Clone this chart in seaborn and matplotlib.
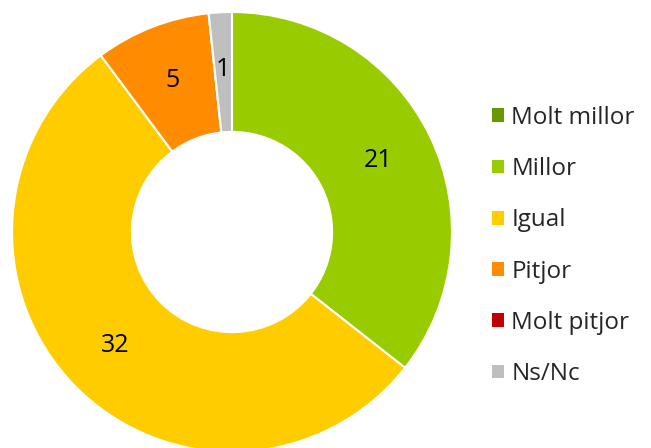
import matplotlib.pyplot as plt
import seaborn as sns
from matplotlib.patches import Patch

# Dades
categories = ['Molt millor', 'Millor', 'Igual', 'Pitjor', 'Molt pitjor', 'Ns/Nc']
valors = [0, 21, 32, 5, 0, 1]
colors = ['#669900', '#99CC00', '#FFCC00', '#FF8C00', '#C00000', '#BFBFBF']

sns.set_style('white')
plt.rcParams['font.family'] = ['Open Sans', 'DejaVu Sans']

fig = plt.figure(figsize=(6.51, 4.48), dpi=100)
ax = fig.add_axes([12 / 651, -4 / 448, 440 / 651, 440 / 448])

total = sum(valors)


def etiqueta(pct):
    v = int(round(pct * total / 100))
    return str(v) if v > 0 else ''


wedges, texts, autotexts = ax.pie(
    valors, colors=colors, startangle=90, counterclock=False,
    autopct=etiqueta, pctdistance=0.74,
    wedgeprops=dict(width=0.545, edgecolor='white', linewidth=1.5),
    textprops=dict(fontsize=18, color='black'))
ax.set_xlim(-1, 1)
ax.set_ylim(-1, 1)
ax.set_aspect('equal')
ax.axis('off')

handles = [Patch(facecolor=c, edgecolor='none') for c in colors]
fig.legend(handles, categories, loc='center left', bbox_to_anchor=(482 / 651, 1 - 246 / 448),
           frameon=False, fontsize=17.5, handlelength=0.5, handleheight=0.5,
           handletextpad=0.3, labelspacing=1.12, borderaxespad=0)

fig.savefig('out.png', dpi=100)
